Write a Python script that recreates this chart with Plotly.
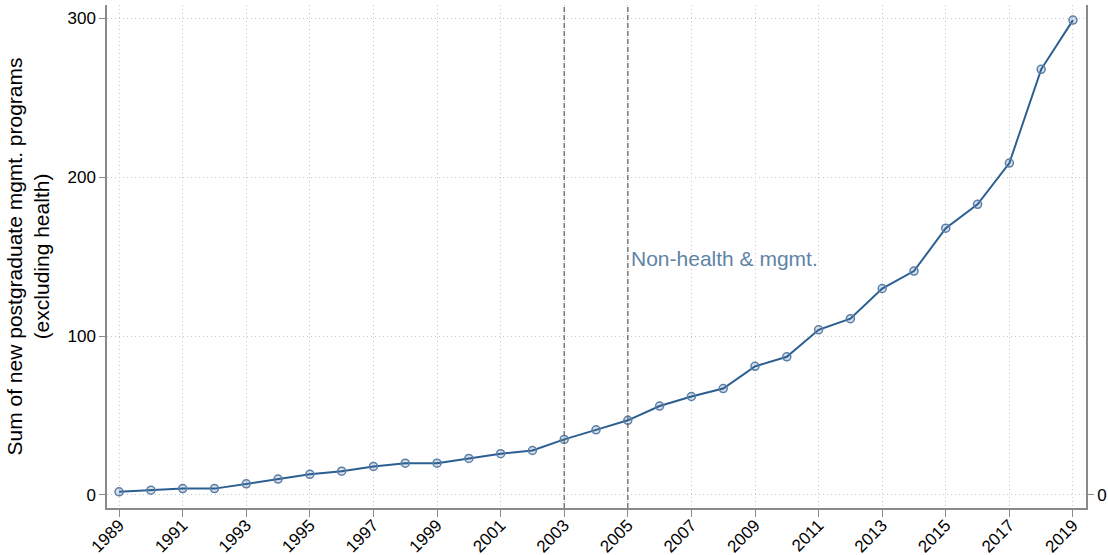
import plotly.graph_objects as go

years = list(range(1989, 2020))
programs = [2, 3, 4, 4, 7, 10, 13, 15, 18, 20, 20, 23, 26, 28, 35, 41, 47, 56, 62, 67,
            81, 87, 104, 111, 130, 141, 168, 183, 209, 268, 299]
x_ticks = list(range(1989, 2020, 2))
y_ticks = [0, 100, 200, 300]
ref_years = [2003, 2005]

line_col = "#2c5f91"
font = "Liberation Sans, Arial, sans-serif"
axis_col = "#8a8a8a"
grid = dict(showgrid=True, gridcolor="#c8c8c8", griddash="1px,3px", gridwidth=1)

fig = go.Figure()
fig.add_trace(go.Scatter(
    x=years, y=programs, mode="lines+markers",
    line=dict(color=line_col, width=2),
    marker=dict(symbol="circle", size=8, color="rgba(44,95,145,0.2)",
                line=dict(color="#5b7fa6", width=1.5)),
    showlegend=False,
))
# invisible trace so the right axis is drawn
fig.add_trace(go.Scatter(x=[years[0]], y=[0], yaxis="y2", mode="markers",
                         marker=dict(opacity=0), showlegend=False, hoverinfo="skip"))

for yr in ref_years:
    fig.add_shape(type="line", xref="x", yref="paper", x0=yr, x1=yr, y0=0, y1=1,
                  line=dict(color="#666666", width=1.3, dash="5px,3px"))

fig.add_annotation(x=2005, y=149, text="Non-health & mgmt.", showarrow=False,
                   xanchor="left", xshift=1, font=dict(size=21, color="#5f84a6", family=font))

yrange = [-8.2, 308.5]
fig.update_layout(
    width=1108, height=555,
    margin=dict(l=107, r=22, t=5, b=47),
    plot_bgcolor="white", paper_bgcolor="white",
    font=dict(family=font, size=17, color="black"),
    xaxis=dict(range=[1988.62, 2019.41], tickvals=x_ticks, tickangle=-45,
               showline=True, linecolor=axis_col, linewidth=1.5,
               ticks="outside", ticklen=7, tickcolor=axis_col,
               ticklabelstandoff=-8,
               zeroline=False, tickfont=dict(size=17), automargin=False, **grid),
    yaxis=dict(range=yrange, tickvals=y_ticks,
               showline=True, linecolor=axis_col, linewidth=1.5,
               ticks="outside", ticklen=6, tickcolor=axis_col,
               zeroline=False, tickfont=dict(size=17), automargin=False,
               title=dict(text="Sum of new postgraduate mgmt. programs<br>(excluding health)",
                          font=dict(size=21), standoff=12), **grid),
    yaxis2=dict(range=yrange, tickvals=[0], overlaying="y", side="right",
                showline=True, linecolor=axis_col, linewidth=1.5,
                ticks="outside", ticklen=6, tickcolor=axis_col,
                showgrid=False, zeroline=False, tickfont=dict(size=17), automargin=False),
)

fig.write_html("out.html", config={"displayModeBar": False},
               post_script="document.body.style.margin='0';")
